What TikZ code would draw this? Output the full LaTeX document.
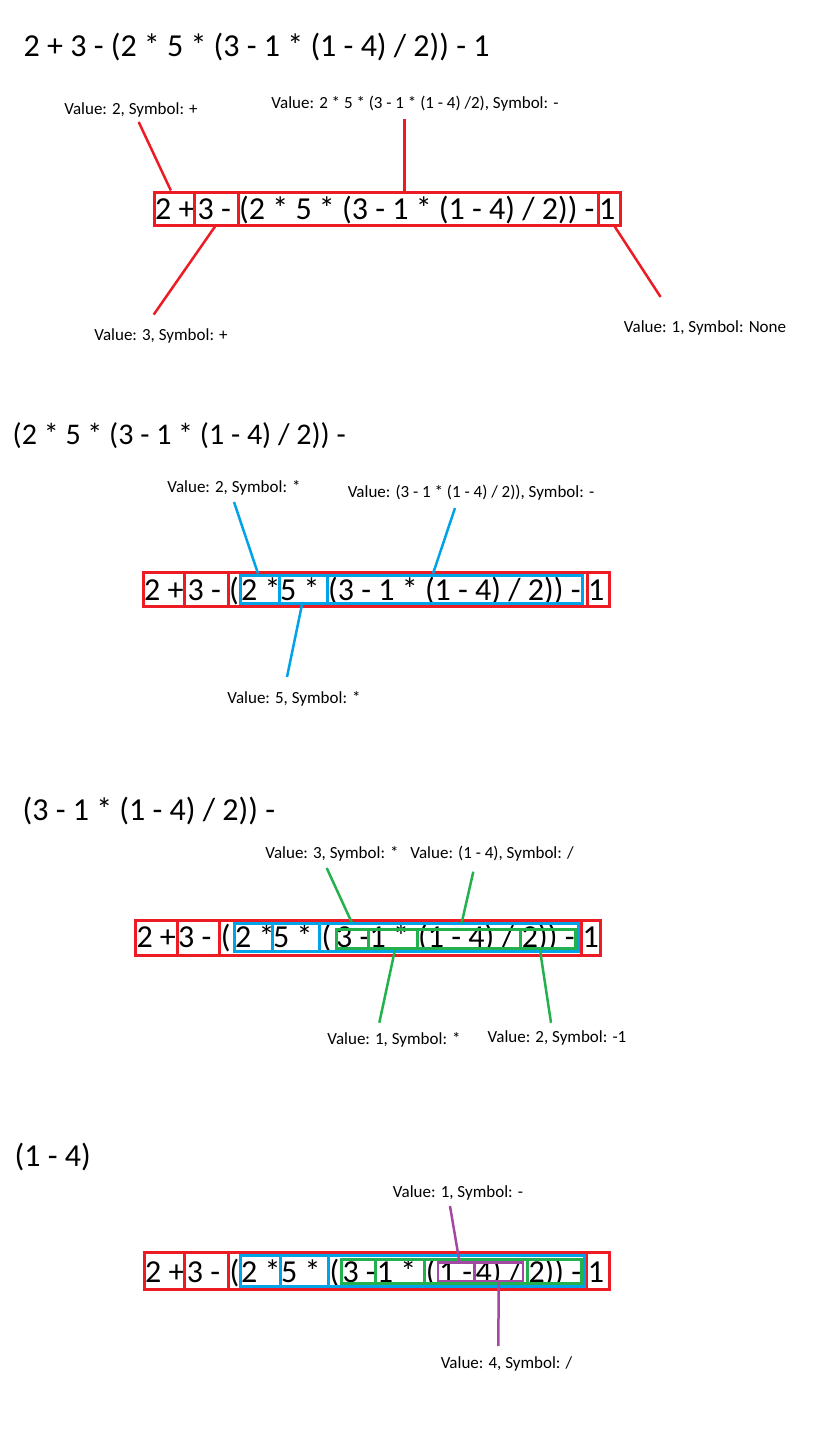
\documentclass[tikz,border=0pt]{standalone}
\usepackage{fontspec}
\setmainfont{Carlito}
\usetikzlibrary{fit}
\definecolor{pred}{RGB}{237,28,36}
\definecolor{pblue}{RGB}{0,162,232}
\definecolor{pgreen}{RGB}{34,177,76}
\definecolor{ppurple}{RGB}{163,73,164}
\begin{document}
\begin{tikzpicture}[x=1pt, y=-1pt,
  exprtext/.style={font=\fontsize{32}{38}\selectfont, inner sep=0pt, anchor=base west},
  valuelabel/.style={font=\fontsize{17}{20}\selectfont, inner sep=0pt, anchor=base},
  redbox/.style={draw=pred, line width=3pt, inner sep=0pt},
  bluebox/.style={draw=pblue, line width=3pt, inner sep=0pt},
  greenbox/.style={draw=pgreen, line width=3pt, inner sep=0pt},
  purplebox/.style={draw=ppurple, line width=2.5pt, inner sep=0pt},
  redlead/.style={draw=pred, line width=2.5pt},
  bluelead/.style={draw=pblue, line width=2.5pt},
  greenlead/.style={draw=pgreen, line width=2.5pt},
  purplelead/.style={draw=ppurple, line width=2.5pt}]
  \useasboundingbox (0,0) rectangle (834,1456);

  % whole expression
  \node[exprtext] (title1) at (23.5,56) {2 + 3 - (2 * 5 * (3 - 1 * (1 - 4) / 2)) - 1};
  \node[exprtext] (t1a) at (155,219) {2 +};
  \node[exprtext] (t1b) at (197.5,219) {3 -};
  \node[exprtext] (t1c) at (239,219) {(2 * 5 * (3 - 1 * (1 - 4) / 2)) -};
  \node[exprtext] (t1d) at (599,219) {1};
  \node[redbox, fit={(154,192) (194.5,225)}] (r1a) {};
  \node[redbox, fit={(194.5,192) (238,225)}] (r1b) {};
  \node[redbox, fit={(238,192) (598,225)}] (r1c) {};
  \node[redbox, fit={(598,192) (620,225)}] (r1d) {};
  \node[valuelabel] (v1a) at (131,114) {Value: 2, Symbol: +};
  \node[valuelabel] (v1b) at (415,108) {Value: 2 * 5 * (3 - 1 * (1 - 4) /2), Symbol: -};
  \node[valuelabel] (v1c) at (161,340) {Value: 3, Symbol: +};
  \node[valuelabel] (v1d) at (705,332) {Value: 1, Symbol: None};
  \coordinate (v1a-end) at (138.7,122);
  \coordinate (v1b-end) at (404.5,118.6);
  \coordinate (v1c-end) at (153.7,314.6);
  \coordinate (v1d-end) at (660.6,297);
  \draw[redlead] ([xshift=-3.4pt]r1a.north) -- (v1a-end);
  \draw[redlead] ([xshift=-13.5pt]r1c.north) -- (v1b-end);
  \draw[redlead] ([xshift=-1.2pt]r1b.south) -- (v1c-end);
  \draw[redlead] ([xshift=5.7pt]r1d.south) -- (v1d-end);

  % second bracket
  \node[exprtext, font=\fontsize{30}{36}\selectfont] (title2) at (12.5,444) {(2 * 5 * (3 - 1 * (1 - 4) / 2)) -};
  \node[exprtext] (t2a) at (144,600) {2 +};
  \node[exprtext] (t2b) at (187.5,600) {3 -};
  \node[exprtext] (t2p) at (229,600) {(};
  \node[exprtext] (t2c) at (241,600) {2 *};
  \node[exprtext] (t2d) at (280,600) {5 *};
  \node[exprtext] (t2e) at (328,600) {(3 - 1 * (1 - 4) / 2)) -};
  \node[exprtext] (t2f) at (588,600) {1};
  \node[redbox, fit={(143,572) (184.5,606)}] (r2a) {};
  \node[redbox, fit={(184.5,572) (228,606)}] (r2b) {};
  \node[redbox, fit={(228,572) (587,606)}] (r2c) {};
  \node[redbox, fit={(587,572) (609.5,606)}] (r2d) {};
  \node[bluebox, fit={(240,575) (279,603)}] (b2a) {};
  \node[bluebox, fit={(279,575) (327,603)}] (b2b) {};
  \node[bluebox, fit={(327,575) (582.5,603)}] (b2c) {};
  \node[valuelabel] (v2a) at (234,492) {Value: 2, Symbol: *};
  \node[valuelabel] (v2b) at (471,497) {Value: (3 - 1 * (1 - 4) / 2)), Symbol: -};
  \node[valuelabel] (v2c) at (294,703) {Value: 5, Symbol: *};
  \coordinate (v2a-end) at (234,502);
  \coordinate (v2b-end) at (455,508);
  \coordinate (v2c-end) at (287,677);
  \draw[bluelead] ([xshift=-1.5pt]b2a.north) -- (v2a-end);
  \draw[bluelead] ([xshift=-21.7pt]b2c.north) -- (v2b-end);
  \draw[bluelead] ([xshift=-1pt]b2b.south) -- (v2c-end);

  % third bracket
  \node[exprtext] (title3) at (22.5,820) {(3 - 1 * (1 - 4) / 2)) -};
  \node[exprtext] (t3a) at (136.3,947.5) {2 +};
  \node[exprtext] (t3b) at (178,947.5) {3 -};
  \node[exprtext] (t3p) at (220.7,947.5) {(};
  \node[exprtext] (t3c) at (235,947.5) {2 *};
  \node[exprtext] (t3d) at (273,947.5) {5 *};
  \node[exprtext] (t3q) at (321.5,947.5) {(};
  \node[exprtext] (t3e) at (336,947.5) {3 -};
  \node[exprtext] (t3f) at (369.5,947.5) {1 *};
  \node[exprtext] (t3g) at (418,947.5) {(1 - 4) /};
  \node[exprtext] (t3h) at (521.7,947.5) {2)) -};
  \node[exprtext] (t3i) at (582.3,947.5) {1};
  \node[redbox, fit={(135.3,920.5) (177,955)}] (r3a) {};
  \node[redbox, fit={(177,920.5) (219.7,955)}] (r3b) {};
  \node[redbox, fit={(219.7,920.5) (581.3,955)}] (r3c) {};
  \node[redbox, fit={(581.3,920.5) (600,955)}] (r3d) {};
  \node[bluebox, fit={(234,923.5) (272,951.5)}] (b3a) {};
  \node[bluebox, fit={(272,923.5) (319.5,951.5)}] (b3b) {};
  \node[bluebox, fit={(319.5,923.5) (578,951.5)}] (b3c) {};
  \node[greenbox, fit={(336,929) (368.5,948.5)}] (g3a) {};
  \node[greenbox, fit={(368.5,929) (417,948.5)}] (g3b) {};
  \node[greenbox, fit={(417,929) (520.7,948.5)}] (g3c) {};
  \node[greenbox, fit={(520.7,929) (575.3,948.5)}] (g3d) {};
  \node[valuelabel] (v3a) at (332,858) {Value: 3, Symbol: *};
  \node[valuelabel] (v3b) at (492,858) {Value: (1 - 4), Symbol: /};
  \node[valuelabel] (v3c) at (394,1044) {Value: 1, Symbol: *};
  \node[valuelabel] (v3d) at (557,1042) {Value: 2, Symbol: -1};
  \coordinate (v3a-end) at (326.7,868);
  \coordinate (v3b-end) at (473.3,871.7);
  \coordinate (v3c-end) at (379.3,1022.7);
  \coordinate (v3d-end) at (551,1022.7);
  \draw[greenlead] ([xshift=-0.5pt, yshift=5pt]g3a.north) -- (v3a-end);
  \draw[greenlead] ([xshift=-7.2pt, yshift=4.5pt]g3c.north) -- (v3b-end);
  \draw[greenlead] ([xshift=2.2pt]g3b.south) -- (v3c-end);
  \draw[greenlead] ([xshift=-8pt]g3d.south) -- (v3d-end);

  % innermost bracket
  \node[exprtext] (title4) at (14.5,1166) {(1 - 4)};
  \node[exprtext] (t4a) at (145,1282) {2 +};
  \node[exprtext] (t4b) at (186.7,1282) {3 -};
  \node[exprtext] (t4p) at (229.5,1282) {(};
  \node[exprtext] (t4c) at (241,1282) {2 *};
  \node[exprtext] (t4d) at (281,1282) {5 *};
  \node[exprtext] (t4q) at (329.5,1282) {(};
  \node[exprtext] (t4e) at (342.3,1282) {3 -};
  \node[exprtext] (t4f) at (376.7,1282) {1 *};
  \node[exprtext] (t4r) at (425.7,1282) {(};
  \node[exprtext] (t4g) at (438.8,1282) {1 -};
  \node[exprtext] (t4h) at (475.5,1282) {4) /};
  \node[exprtext] (t4i) at (528.3,1282) {2)) -};
  \node[exprtext] (t4j) at (587.7,1282) {1};
  \node[redbox, fit={(144,1252.5) (184.5,1289)}] (r4a) {};
  \node[redbox, fit={(184.5,1252.5) (228.5,1289)}] (r4b) {};
  \node[redbox, fit={(228.5,1252.5) (586.7,1289)}] (r4c) {};
  \node[redbox, fit={(586.7,1252.5) (609.5,1289)}] (r4d) {};
  \node[bluebox, fit={(240,1255.5) (280,1286)}] (b4a) {};
  \node[bluebox, fit={(280,1255.5) (328.5,1286)}] (b4b) {};
  \node[bluebox, fit={(328.5,1255.5) (584,1286)}] (b4c) {};
  \node[greenbox, fit={(341.3,1259.5) (375.7,1283.3)}] (g4a) {};
  \node[greenbox, fit={(375.7,1259.5) (424.7,1283.3)}] (g4b) {};
  \node[greenbox, fit={(424.7,1259.5) (527.3,1283.3)}] (g4c) {};
  \node[greenbox, fit={(527.3,1259.5) (581.3,1283.3)}] (g4d) {};
  \node[purplebox, fit={(437.8,1262.5) (474.5,1281)}] (p4a) {};
  \node[purplebox, fit={(474.5,1262.5) (523,1281)}] (p4b) {};
  \node[valuelabel] (v4a) at (458,1197) {Value: 1, Symbol: -};
  \node[valuelabel] (v4b) at (506.5,1368) {Value: 4, Symbol: /};
  \coordinate (v4a-end) at (450,1206);
  \coordinate (v4b-end) at (498.3,1346);
  \draw[purplelead] ([xshift=3.2pt]p4a.north) -- (v4a-end);
  \draw[purplelead] (p4b.south) -- (v4b-end);
\end{tikzpicture}
\end{document}
